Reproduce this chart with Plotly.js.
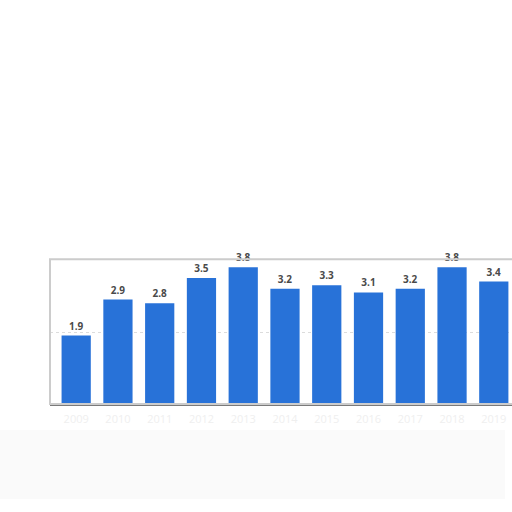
<!DOCTYPE html>
<html>
<head>
<meta charset="utf-8">
<script src="https://cdn.plot.ly/plotly-3.0.1.min.js"></script>
<style>html,body{margin:0;padding:0;background:#fff;}#chart{width:512px;height:512px;}</style>
</head>
<body>
<div id="chart"></div>
<script>
const years = ["2009","2010","2011","2012","2013","2014","2015","2016","2017","2018","2019"];
const values = [1.9, 2.9, 2.8, 3.5, 3.8, 3.2, 3.3, 3.1, 3.2, 3.8, 3.4];
const labels = values.map(v => v.toFixed(1));

const trace = {
  type: 'bar',
  x: years.map((y, i) => i),
  y: values,
  text: labels,
  textposition: 'outside',
  cliponaxis: false,
  textfont: {family: 'Open Sans, Arial, sans-serif', size: 10, color: '#4a4a4a', weight: 'bold'},
  marker: {color: '#2872d8'},
  hoverinfo: 'none'
};

const layout = {
  width: 512, height: 512,
  margin: {l: 50, r: 0, t: 260, b: 108, pad: 0},
  paper_bgcolor: '#ffffff',
  plot_bgcolor: '#ffffff',
  bargap: 0.3,
  showlegend: false,
  xaxis: {
    range: [-0.627, 10.436],
    tickvals: years.map((y, i) => i),
    ticktext: years,
    tickfont: {family: 'Open Sans, Arial, sans-serif', size: 11, color: '#efefef'},
    ticklabelstandoff: 4,
    showline: true, linecolor: '#7a7a7a', linewidth: 2,
    showgrid: false, zeroline: false, ticks: '', fixedrange: true
  },
  yaxis: {
    range: [0, 4],
    dtick: 2,
    showticklabels: false,
    showgrid: true, gridcolor: '#dcdcdc', griddash: 'dot', gridwidth: 1,
    zeroline: false, ticks: '', fixedrange: true
  },
  shapes: [
    {type: 'rect', xref: 'paper', yref: 'paper', x0: -0.108, x1: 0.985, y0: -0.66, y1: -0.18,
     fillcolor: '#fafafa', line: {width: 0}, layer: 'below'},
    {type: 'rect', xref: 'paper', yref: 'paper', x0: 0, x1: 1.05, y0: 0, y1: 1.005,
     fillcolor: 'rgba(0,0,0,0)', line: {color: '#cccccc', width: 2}, layer: 'above'}
  ]
};

Plotly.newPlot('chart', [trace], layout, {staticPlot: true, displayModeBar: false});
</script>
</body>
</html>
